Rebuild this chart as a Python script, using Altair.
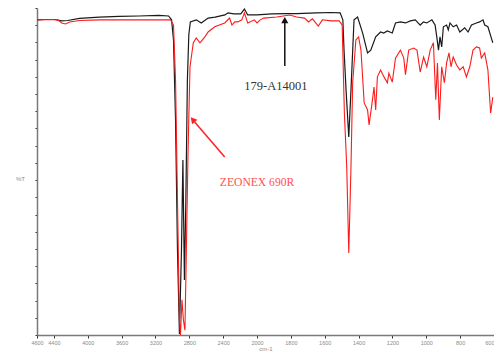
import altair as alt
import pandas as pd

# --- spectrum 1: 179-A14001 (black) ---
black_wn = [4600, 4506, 4390, 4308, 4238, 4097, 3864, 3630, 3396, 3162, 3045, 3010, 2987, 2963,
            2940, 2917, 2893, 2876, 2858, 2841, 2823, 2806, 2788, 2718, 2659, 2578, 2496, 2379,
            2344, 2274, 2192, 2149, 2110, 2000, 1912, 1831, 1766, 1649, 1562, 1509, 1493, 1486,
            1474, 1458, 1445, 1427, 1406, 1376, 1347, 1328, 1299, 1270, 1252, 1230, 1201, 1182,
            1153, 1123, 1094, 1065, 1036, 1016, 997, 967, 948, 938, 928, 919, 909, 899, 880, 870,
            860, 841, 821, 802, 773, 753, 733, 704, 685, 665, 655, 636, 616, 607]
black_t = [90.6, 90.7, 90.7, 90.3, 90.4, 91.0, 91.4, 91.6, 91.7, 91.9, 91.7, 90.6, 84.8, 61.8,
           24.4, 0.3, 24.4, 50.3, 15.8, 38.8, 73.3, 86.3, 90.0, 90.6, 89.7, 91.1, 91.4, 92.0,
           92.6, 92.3, 92.3, 93.7, 92.0, 92.0, 92.3, 92.4, 92.4, 92.6, 92.7, 92.6, 90.6, 81.9,
           70.4, 56.9, 70.4, 90.6, 91.4, 86.8, 81.1, 81.9, 85.7, 87.1, 86.8, 87.4, 86.8, 89.7,
           90.0, 89.7, 90.3, 90.6, 89.1, 90.0, 89.7, 90.6, 89.1, 85.7, 81.9, 85.7, 82.8, 88.6, 89.1, 87.7,
           89.7, 88.6, 89.1, 87.1, 88.3, 87.1, 89.1, 89.7, 90.0, 90.6, 89.1, 88.6, 85.4, 84.0]

# --- spectrum 2: ZEONEX 690R (red) ---
red_wn = [4600, 4448, 4354, 4308, 4261, 4214, 4097, 3864, 3513, 3162, 3022, 2987, 2963, 2940,
          2917, 2905, 2887, 2870, 2852, 2835, 2817, 2806, 2792, 2753, 2718, 2675, 2616, 2578,
          2499, 2382, 2324, 2297, 2262, 2227, 2180, 2149, 2110, 2032, 2000, 1981, 1961, 1883,
          1807, 1766, 1719, 1696, 1673, 1638, 1614, 1562, 1515, 1497, 1484, 1470, 1458, 1445,
          1435, 1416, 1400, 1386, 1367, 1347, 1338, 1318, 1309, 1299, 1289, 1270, 1250, 1230,
          1221, 1201, 1182, 1153, 1133, 1123, 1104, 1075, 1055, 1036, 1016, 997, 977, 958, 944,
          934, 923, 909, 893, 880, 866, 854, 841, 821, 802, 782, 763, 743, 724, 704, 685, 675,
          655, 636, 620, 607]
red_t = [90.6, 90.7, 90.6, 89.7, 89.4, 90.0, 90.4, 90.6, 90.6, 90.6, 90.6, 89.1, 73.3, 38.8,
         4.3, 0.0, 10.1, 4.3, 1.4, 24.4, 50.3, 62.7, 77.1, 84.0, 85.4, 84.0, 85.7, 87.1,
         88.6, 89.7, 91.1, 89.1, 90.0, 90.0, 90.6, 92.6, 89.7, 90.6, 89.7, 90.6, 91.1, 91.4,
         92.0, 91.4, 91.1, 90.0, 90.9, 88.8, 90.6, 90.3, 90.3, 89.1, 63.8, 48.3, 23.6, 48.3,
         72.5, 84.8, 85.7, 81.9, 66.7, 64.7, 60.4, 67.6, 71.3, 64.7, 74.2, 76.2, 74.2, 72.5,
         75.3, 72.7, 79.6, 81.9, 79.6, 74.8, 81.9, 82.5, 81.9, 75.6, 79.9, 77.1, 81.9, 84.0, 67.6,
         78.2, 61.8, 77.1, 72.5, 78.2, 81.1, 77.1, 79.9, 77.6, 76.2, 77.1, 74.2, 77.1, 81.9, 82.8, 82.5, 79.6,
         81.1, 76.2, 63.8, 68.4]

# --- axis ticks ---
x_tick_labels = [4600, 4400, 4000, 3600, 3200, 2800, 2400, 2000, 1800, 1600, 1400, 1200, 1000, 800, 600]
y_ticks = [0, 4.95, 9.89, 14.84, 19.79, 24.74, 29.68, 34.63, 39.58, 44.53, 49.47, 54.42, 59.37,
           64.32, 69.26, 74.21, 79.16, 84.11, 89.05, 94]

# --- annotations ---
label_text = ["179-A14001", "ZEONEX 690R"]
label_wn = [1889, 2000]
label_t = [71.6, 43.7]
label_color = ["#333333", "#ff5050"]
label_size = [12.5, 11.6]

arrow_name = ["black", "red"]
arrow_wn_tail = [1836, 2382]
arrow_t_tail = [77.3, 51.2]
arrow_wn_head = [1836, 2760]
arrow_t_head = [90.5, 61.9]
arrow_angle = [0, 319]
arrow_color = ["#111111", "#ff2020"]

assert len(black_wn) == len(black_t) and len(red_wn) == len(red_t)

df_black = pd.DataFrame({"wn": black_wn, "T": black_t})
df_red = pd.DataFrame({"wn": red_wn, "T": red_t})
df_lab = pd.DataFrame({"wn": label_wn, "T": label_t, "text": label_text, "c": label_color,
                       "s": label_size})
df_arr = pd.DataFrame({"wn": arrow_wn_tail, "T": arrow_t_tail, "wn2": arrow_wn_head,
                       "T2": arrow_t_head, "ang": arrow_angle, "c": arrow_color, "name": arrow_name})

# IR convention: above 2000 cm-1 the axis is compressed by a factor of 2
FOLD = "datum.wn > 2000 ? 2000 + (datum.wn - 2000) / 2 : datum.wn"
FOLD2 = "datum.wn2 > 2000 ? 2000 + (datum.wn2 - 2000) / 2 : datum.wn2"
UNFOLD = "datum.value > 2000 ? 2000 + (datum.value - 2000) * 2 : datum.value"


def fold(w):
    return 2000 + (w - 2000) / 2 if w > 2000 else w


tick_pos = [fold(w) for w in x_tick_labels]

xscale = alt.Scale(domain=[600, 3300], reverse=True, nice=False, zero=False)
yscale = alt.Scale(domain=[0, 94], nice=False, zero=False)

x_axis = alt.Axis(values=tick_pos, tickCount=100, labelExpr=UNFOLD, title="cm-1", grid=False,
                  domainColor="#7a7a7a", domainWidth=1.5, tickColor="#333333", tickSize=3,
                  tickWidth=1, labelFontSize=5.5, labelColor="#8a8a8a", labelFont="Liberation Sans",
                  labelPadding=2, labelOverlap=False, labelFlush=False,
                  labelAlign={"condition": {"test": "datum.value <= 600", "value": "right"},
                              "value": "center"},
                  titleFontSize=6, titleColor="#8a8a8a", titleFont="Liberation Sans",
                  titleFontWeight="normal", titleY=16, titleBaseline="bottom")
y_axis = alt.Axis(values=y_ticks, tickCount=100, labels=False, title="%T", titleAngle=0,
                  titleX=-17, titleY=170,
                  titleAlign="center", titleBaseline="middle", grid=False,
                  domainColor="#7a7a7a", domainWidth=1.5, tickColor="#333333", tickSize=2,
                  titleFontSize=6, titleColor="#8a8a8a", titleFont="Liberation Sans",
                  titleFontWeight="normal")

black_line = alt.Chart(df_black).transform_calculate(pos=FOLD).mark_line(
    color="#1a1a1a", strokeWidth=1.2).encode(
    x=alt.X("pos:Q", scale=xscale, axis=x_axis),
    y=alt.Y("T:Q", scale=yscale, axis=y_axis),
    order="pos:Q")

red_line = alt.Chart(df_red).transform_calculate(pos=FOLD).mark_line(
    color="#ff1a1a", strokeWidth=1.1).encode(
    x=alt.X("pos:Q", scale=xscale),
    y=alt.Y("T:Q", scale=yscale),
    order="pos:Q")

arrow_shaft = alt.Chart(df_arr).transform_calculate(pos=FOLD, pos2=FOLD2).mark_rule(
    strokeWidth=1.5).encode(
    x=alt.X("pos:Q", scale=xscale), x2="pos2:Q",
    y=alt.Y("T:Q", scale=yscale), y2="T2:Q",
    color=alt.Color("c:N", scale=None))

arrow_head = alt.Chart(df_arr).transform_calculate(pos=FOLD2).mark_point(
    shape="triangle-up", filled=True, size=50, opacity=1).encode(
    x=alt.X("pos:Q", scale=xscale),
    y=alt.Y("T2:Q", scale=yscale),
    angle=alt.Angle("ang:Q", scale=None),
    color=alt.Color("c:N", scale=None))

labels = alt.Chart(df_lab).transform_calculate(pos=FOLD).mark_text(
    font="Liberation Serif", align="center", baseline="middle").encode(
    x=alt.X("pos:Q", scale=xscale),
    y=alt.Y("T:Q", scale=yscale),
    text="text:N",
    size=alt.Size("s:Q", scale=None),
    color=alt.Color("c:N", scale=None))

chart = alt.layer(black_line, red_line, arrow_shaft, arrow_head, labels).properties(
    width=457, height=327,
    autosize=alt.AutoSizeParams(type="none"),
    padding={"left": 29, "top": 0, "right": 0, "bottom": 16},
    background="white",
).configure_view(stroke=None)

chart.save("out.html", embed_options={"renderer": "svg", "actions": False})
